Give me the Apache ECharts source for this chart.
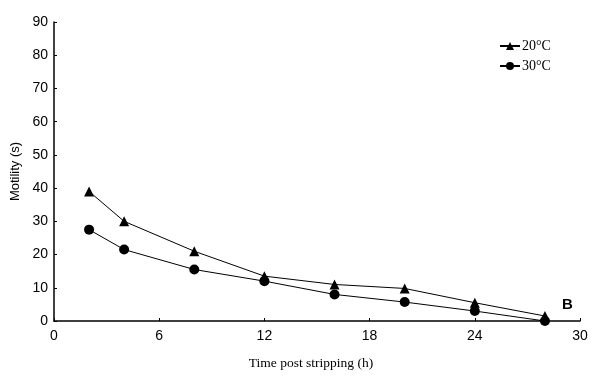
<!DOCTYPE html>
<html>
<head>
<meta charset="utf-8">
<script src="https://cdn.jsdelivr.net/npm/echarts@6/dist/echarts.min.js"></script>
<style>
  html, body { margin: 0; padding: 0; background: #fff; }
  #chart { width: 600px; height: 376px; }
</style>
</head>
<body>
<div id="chart"></div>
<script>
// time post stripping (h)
const hours = [2, 4, 8, 12, 16, 20, 24, 28]
// motility (s)
const motility20 = [39, 30, 21, 13.5, 11, 9.8, 5.5, 1.5]
const motility30 = [27.5, 21.5, 15.5, 12, 8, 5.7, 3, 0]
const seriesNames = ['20°C', '30°C']

const SANS = "'Liberation Sans', Arial, sans-serif"
const SERIF = "'Liberation Serif', 'Times New Roman', serif"
const INK = '#000'

const chart = echarts.init(document.getElementById('chart'))

function pairs(ys) {
  return hours.map((h, i) => [h, ys[i]])
}

chart.setOption({
  animation: false,
  grid: { left: 54, right: 20, top: 22, bottom: 55, containLabel: false },
  legend: {
    orient: 'vertical',
    left: 494,
    top: 34,
    itemWidth: 20,
    itemHeight: 10,
    itemGap: 6,
    textStyle: { fontFamily: SERIF, fontSize: 14, color: INK, padding: [0, 0, 0, -3] },
    data: seriesNames,
  },
  xAxis: {
    type: 'value',
    min: 0, max: 30, interval: 6,
    name: 'Time post stripping (h)',
    nameLocation: 'middle',
    nameGap: 35,
    nameTextStyle: { fontFamily: SERIF, fontSize: 13.5, color: INK, padding: [0, 12, 0, 0] },
    axisLine: { lineStyle: { color: INK, width: 1.5 } },
    axisTick: { inside: true, length: 3, lineStyle: { color: INK } },
    axisLabel: { fontFamily: SANS, fontSize: 14, color: INK, margin: 8 },
    splitLine: { show: false },
  },
  yAxis: {
    type: 'value',
    min: 0, max: 90, interval: 10,
    name: 'Motility (s)',
    nameLocation: 'middle',
    nameGap: 32,
    nameTextStyle: { fontFamily: SANS, fontSize: 13, color: INK },
    axisLine: { show: true, lineStyle: { color: INK, width: 1.5 } },
    axisTick: { show: true, inside: true, length: 3, lineStyle: { color: INK } },
    axisLabel: { fontFamily: SANS, fontSize: 14, color: INK, margin: 6 },
    splitLine: { show: false },
  },
  series: [
    {
      name: seriesNames[0],
      type: 'line',
      data: pairs(motility20),
      symbol: 'triangle',
      symbolSize: 10,
      lineStyle: { color: INK, width: 1 },
      itemStyle: { color: INK },
      z: 3,
    },
    {
      name: seriesNames[1],
      type: 'line',
      data: pairs(motility30),
      symbol: 'circle',
      symbolSize: 10,
      lineStyle: { color: INK, width: 1 },
      itemStyle: { color: INK },
      z: 2,
    },
  ],
  graphic: [{
    type: 'text',
    left: 562,
    top: 297,
    style: { text: 'B', font: "bold 15px 'Liberation Sans', Arial, sans-serif", fill: INK },
  }],
})
</script>
</body>
</html>
